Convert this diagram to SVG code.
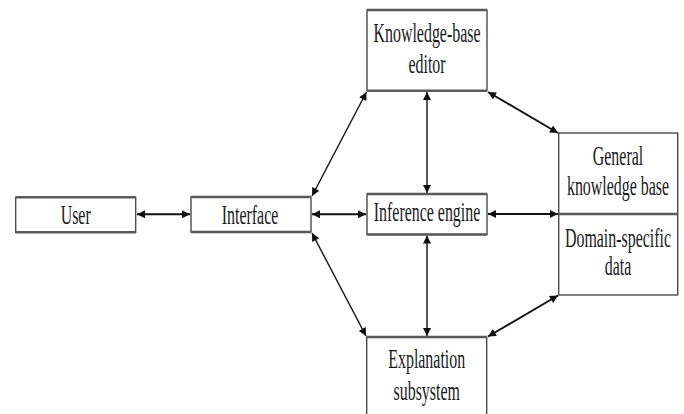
<svg xmlns="http://www.w3.org/2000/svg" width="684" height="414" viewBox="0 0 684 414">
<style>
.box{fill:#fff;stroke:#4a4a4a;stroke-width:1.4}
.edge{stroke:#5a5a5a;stroke-width:2.6}
.t{font-family:"Liberation Serif","Times New Roman",serif;font-size:27px;fill:#1a1a1a;text-anchor:middle}
.c{fill:none;stroke:#111;stroke-width:1.4;marker-start:url(#ah);marker-end:url(#ah)}
.cw{stroke-width:1.9}
</style>
<defs>
<marker id="ah" viewBox="0 0 10 10" refX="10" refY="5" markerWidth="9" markerHeight="8" markerUnits="userSpaceOnUse" orient="auto-start-reverse">
<path d="M0,0 L10,5 L0,10 z" fill="#111"/>
</marker>
</defs>
<rect width="684" height="414" fill="#fff"/>
<g id="connectors">
<line class="c cw" x1="137" y1="214.3" x2="190" y2="214.3"/>
<line class="c cw" x1="312" y1="214.3" x2="366" y2="214.3"/>
<line class="c cw" x1="488" y1="214" x2="558" y2="214"/>
<line class="c" x1="427" y1="92" x2="427" y2="193"/>
<line class="c" x1="427" y1="235.5" x2="427" y2="336"/>
<line class="c" x1="312" y1="196" x2="366.5" y2="92"/>
<line class="c" x1="312" y1="233" x2="366" y2="336"/>
<line class="c cw" x1="488" y1="92" x2="558" y2="133"/>
<line class="c cw" x1="558" y1="295.5" x2="488" y2="336.5"/>
</g>
<g id="kb-editor">
<rect class="box" x="367" y="10" width="120" height="80.7"/>
<line class="edge" x1="367" y1="10" x2="487" y2="10"/>
<line class="edge" x1="367" y1="90.7" x2="487" y2="90.7"/>
<text class="t" transform="translate(427,42) scale(0.59,1)">Knowledge-base</text>
<text class="t" transform="translate(427,73) scale(0.59,1)">editor</text>
</g>
<g id="user">
<rect class="box" x="15.7" y="197.3" width="120" height="35"/>
<line class="edge" x1="15.7" y1="197.3" x2="135.7" y2="197.3"/>
<line class="edge" x1="15.7" y1="232.3" x2="135.7" y2="232.3"/>
<text class="t" transform="translate(75.7,223.5) scale(0.59,1)">User</text>
</g>
<g id="interface">
<rect class="box" x="191" y="197" width="120" height="35"/>
<line class="edge" x1="191" y1="197" x2="311" y2="197"/>
<line class="edge" x1="191" y1="232" x2="311" y2="232"/>
<text class="t" transform="translate(250,223.5) scale(0.59,1)">Interface</text>
</g>
<g id="inference-engine">
<rect class="box" x="367" y="194" width="120" height="40.5"/>
<line class="edge" x1="367" y1="194" x2="487" y2="194"/>
<line class="edge" x1="367" y1="234.5" x2="487" y2="234.5"/>
<text class="t" transform="translate(427,221) scale(0.59,1)">Inference engine</text>
</g>
<g id="knowledge-base">
<rect class="box" x="558.7" y="133" width="119" height="162"/>
<line class="edge" x1="558.7" y1="214" x2="677.7" y2="214"/>
<text class="t" transform="translate(618,165) scale(0.59,1)">General</text>
<text class="t" transform="translate(618,195) scale(0.59,1)">knowledge base</text>
<text class="t" transform="translate(618,247) scale(0.59,1)">Domain-specific</text>
<text class="t" transform="translate(618,275) scale(0.59,1)">data</text>
</g>
<g id="explanation">
<rect class="box" x="366.7" y="337" width="120" height="90"/>
<line class="edge" x1="366.7" y1="337" x2="486.7" y2="337"/>
<text class="t" transform="translate(426.7,368) scale(0.59,1)">Explanation</text>
<text class="t" transform="translate(426.7,400) scale(0.59,1)">subsystem</text>
</g>
</svg>
